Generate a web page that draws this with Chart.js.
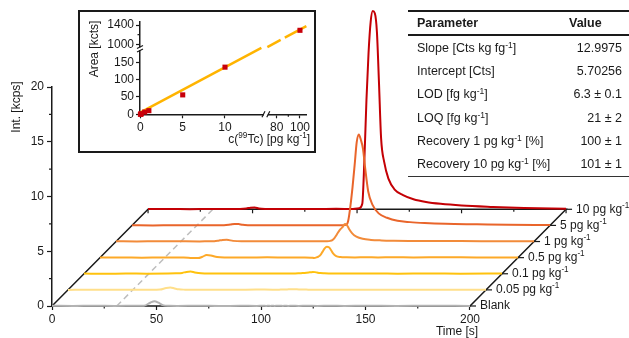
<!DOCTYPE html>
<html>
<head>
<meta charset="utf-8">
<script src="https://cdn.jsdelivr.net/npm/chart.js@4.4.1/dist/chart.umd.min.js"></script>
<style>
    body { margin: 0; background: #fff; font-family: "Liberation Sans", Arial, sans-serif; }
    #wrap { position: relative; width: 629px; height: 338px; overflow: hidden; }
    #main { position: absolute; left: 0; top: 0; }
    #insetBox { position: absolute; left: 78px; top: 10px; width: 238px; height: 143px; border: 2px solid #1a1a1a; box-sizing: border-box; background: #fff; }
    #inset { position: absolute; left: 0; top: 0; }
    #params { position: absolute; left: 408px; top: 10px; width: 221px; table-layout: fixed; border-collapse: collapse;
              font-size: 12.5px; color: #1a1a1a; border-top: 2px solid #1a1a1a; border-bottom: 1px solid #333; }
    #params th { height: 22px; padding: 0 0 0 9px; text-align: left; font-weight: bold; border-bottom: 2px solid #1a1a1a; }
    #params th.v { padding-left: 7px; }
    #params td { height: 23.3px; padding: 0 0 0 9px; white-space: nowrap; }
    #params td.n { text-align: right; padding: 0 7px 0 0; }
    #params sup { font-size: 8.5px; line-height: 0; vertical-align: 4px; }
</style>
</head>
<body>
<div id="wrap">
    <canvas id="main" width="629" height="338"></canvas>
    <div id="insetBox"><canvas id="inset" width="234" height="139"></canvas></div>
    <table id="params">
        <colgroup><col style="width:154px"><col style="width:67px"></colgroup>
        <thead><tr><th>Parameter</th><th class="v">Value</th></tr></thead>
        <tbody>
            <tr><td>Slope [Cts kg fg<sup>-1</sup>]</td><td class="n">12.9975</td></tr>
            <tr><td>Intercept [Cts]</td><td class="n">5.70256</td></tr>
            <tr><td>LOD [fg kg<sup>-1</sup>]</td><td class="n">6.3 ± 0.1</td></tr>
            <tr><td>LOQ [fg kg<sup>-1</sup>]</td><td class="n">21 ± 2</td></tr>
            <tr><td>Recovery 1 pg kg<sup>-1</sup> [%]</td><td class="n">100 ± 1</td></tr>
            <tr><td>Recovery 10 pg kg<sup>-1</sup> [%]</td><td class="n">101 ± 1</td></tr>
        </tbody>
    </table>
</div>
<script>
// Chromatogram traces (front to back)

const traceLabels = ['Blank', '0.05 pg kg^-1', '0.1 pg kg^-1', '0.5 pg kg^-1', '1 pg kg^-1', '5 pg kg^-1', '10 pg kg^-1'];
const traceColors = ['#b3b3b3', '#ffdf8a', '#ffc20e', '#fda928', '#f28b3a', '#e9652b', '#c40005'];

const timeS = [0, 10, 20, 30, 40, 44, 47, 49, 51, 53, 56, 60, 70, 80, 90, 98, 101, 102.5, 103.5, 104.5, 105.5,
    106.5, 107.5, 108.5, 109.5, 110.5, 111.5, 113, 115, 118, 122, 127, 133, 140, 150, 165, 180, 200];

const intBlank = [0.02, 0, 0.03, 0.01, 0.02, 0.03, 0.3, 0.44, 0.3, 0.08, 0.02, 0.01, 0.03, 0, 0.02, 0.01, 0.02, 0.01, 0.02, 0.01, 0.02,
    0.01, 0.02, 0.03, 0.02, 0.01, 0.02, 0.01, 0.02, 0.01, 0.02, 0.01, 0.02, 0.01, 0.02, 0.01, 0.02, 0.01];
const int005 = [0, 0.02, 0.01, 0.02, 0.01, 0.03, 0.18, 0.22, 0.13, 0.05, 0.02, 0.01, 0.02, 0.01, 0.03, 0.02, 0.02, 0.03, 0.03, 0.04, 0.05,
    0.05, 0.06, 0.06, 0.05, 0.04, 0.03, 0.03, 0.02, 0.02, 0.01, 0.02, 0.01, 0.02, 0.01, 0.02, 0.01, 0.02];
const int01 = [0.02, 0, 0.02, 0.01, 0.02, 0.04, 0.08, 0.17, 0.2, 0.12, 0.04, 0.02, 0.03, 0.02, 0.03, 0.02, 0.03, 0.04, 0.05, 0.06, 0.08,
    0.1, 0.12, 0.14, 0.16, 0.15, 0.11, 0.06, 0.04, 0.03, 0.02, 0.03, 0.02, 0.02, 0.01, 0.02, 0.01, 0.02];
const int05 = [0.01, 0.02, 0, 0.02, 0.01, -0.03, -0.04, 0.08, 0.24, 0.2, 0.06, 0.02, 0.01, 0.03, 0.01, 0.02, 0, -0.03, 0.02, 0.1, 0.25,
    0.55, 0.85, 1.0, 0.95, 0.7, 0.4, 0.15, 0.06, 0.03, 0.02, 0.03, 0.02, 0.03, 0.02, 0.03, 0.02, 0.02];
const int1 = [0.02, 0.01, 0.03, 0.02, 0.01, 0.02, 0.03, 0.08, 0.15, 0.16, 0.06, 0.02, 0.03, 0.02, 0.03, 0.02, 0.03, 0.06, 0.12, 0.3, 0.6,
    0.9, 1.15, 1.35, 1.6, 1.5, 1.15, 0.75, 0.45, 0.25, 0.15, 0.1, 0.07, 0.05, 0.04, 0.04, 0.03, 0.02];
const int5 = [0.02, 0, 0.02, 0.01, 0.02, 0.02, 0.08, 0.14, 0.12, 0.05, 0.02, 0.01, 0.02, 0.01, 0.02, 0.01, 0.02, 0.05, 0.5, 1.8, 3.5,
    5.5, 7.6, 8.3, 7.8, 7.0, 5.3, 3.1, 1.9, 1.1, 0.7, 0.42, 0.3, 0.22, 0.15, 0.1, 0.05, 0.03];
const int10 = [0.02, 0.03, 0.01, 0.03, 0.02, 0.03, 0.08, 0.15, 0.17, 0.08, 0.03, 0.02, 0.03, 0.02, 0.04, 0.03, 0.1, 0.5, 4.5, 10, 14.3,
    17.1, 18.1, 17.9, 16.2, 11.5, 6.5, 4.3, 2.8, 1.8, 1.3, 0.92, 0.67, 0.5, 0.35, 0.22, 0.12, 0.05];
const traceValues = [intBlank, int005, int01, int05, int1, int5, int10];

// waterfall offset per trace, in axis units
const DX = 7.66;
const DY = 1.472;
const T_END = 200;
const VOID_TIME = 31;
const timeLabels = [0, 50, 100, 150, 200];
const timeTicks = [0, 25, 50, 75, 100, 125, 150, 175, 200];
const intMinorTicks = [2.5, 7.5, 12.5, 17.5];

// Calibration inset
const concPgKg = [0, 0.05, 0.1, 0.5, 1, 5, 10, 100];
const areaKcts = [0, 0.8, 1.5, 6.5, 10.5, 56, 136, 1290];
const fitSlope = 12.9975;
const fitIntercept = 5.70256;
const fitSpans = [[0, 14.3], [72, 83.4], [87, 105.5]];
const insetXTicks = [0, 5, 10, 80, 100];
const insetXMinor = [90];
const insetYTicks = [0, 50, 100, 150, 1000, 1400];
const insetYMinor = [1200];

// broken axes: map real values onto one continuous scale
const xv = c => c <= 40 ? c : 16.11 + (c - 80) * 0.1377;
const yv = a => a <= 500 ? a : 201.9 + (a - 1000) * 0.1392;

const FONT = '"Liberation Sans", Arial, sans-serif';
const INK = '#1a1a1a';
Chart.defaults.font.family = FONT;
Chart.defaults.font.size = 12;
Chart.defaults.color = INK;

const drawRich = (ctx, text, x, y, align, size = 12) => {
    const parts = text.split('^');
    const fonts = parts.map((p, i) => `${i % 2 ? size * 0.68 : size}px ${FONT}`);
    const widths = parts.map((p, i) => { ctx.font = fonts[i]; return ctx.measureText(p).width; });
    const total = widths.reduce((a, b) => a + b, 0);
    let cx = align === 'right' ? x - total : align === 'center' ? x - total / 2 : x;
    ctx.textAlign = 'left';
    ctx.textBaseline = 'middle';
    parts.forEach((p, i) => {
        ctx.font = fonts[i];
        ctx.fillText(p, cx, i % 2 ? y - size * 0.33 : y);
        cx += widths[i];
    });
};

const tickLine = (ctx, x1, y1, x2, y2) => {
    ctx.beginPath();
    ctx.moveTo(x1, y1);
    ctx.lineTo(x2, y2);
    ctx.stroke();
};

const waterfallAxes = {
    id: 'waterfallAxes',
    beforeDatasetsDraw(chart) {
        const { ctx, scales: { x, y } } = chart;
        const last = traceLabels.length - 1;
        const X = (t, k) => x.getPixelForValue(t + k * DX);
        const Y = (v, k) => y.getPixelForValue(v + k * DY);
        ctx.save();

        ctx.strokeStyle = '#bdbdbd';
        ctx.lineWidth = 1.5;
        ctx.setLineDash([6, 4]);
        tickLine(ctx, X(VOID_TIME, 0), Y(0, 0), X(VOID_TIME, last), Y(0, last));
        ctx.setLineDash([]);

        ctx.strokeStyle = INK;
        ctx.beginPath();
        ctx.moveTo(X(0, 0) - 0.75, Y(0, 0));
        ctx.lineTo(X(T_END, 0), Y(0, 0));
        ctx.lineTo(X(T_END, last), Y(0, last));
        ctx.lineTo(X(0, last), Y(0, last));
        ctx.lineTo(X(0, 0), Y(0, 0));
        ctx.stroke();

        ctx.lineWidth = 1.2;
        timeTicks.forEach(t => {
            const len = t % 50 === 0 ? 4 : 2.5;
            tickLine(ctx, X(t, last), Y(0, last), X(t, last), Y(0, last) + len);
            if (t % 50) tickLine(ctx, X(t, 0), Y(0, 0), X(t, 0), Y(0, 0) + len);
        });
        intMinorTicks.forEach(v => tickLine(ctx, x.left - 3, y.getPixelForValue(v), x.left, y.getPixelForValue(v)));

        ctx.fillStyle = INK;
        traceLabels.forEach((lab, k) => {
            const px = X(T_END, k), py = Y(0, k);
            tickLine(ctx, px, py, px + 6, py);
            drawRich(ctx, lab, px + 10, py, 'left');
        });
        ctx.restore();
    },
    afterDraw(chart) {
        const { ctx } = chart;
        ctx.save();
        ctx.fillStyle = INK;
        drawRich(ctx, 'Time [s]', 457, 332, 'center');
        ctx.translate(17, 107);
        ctx.rotate(-Math.PI / 2);
        drawRich(ctx, 'Int. [kcps]', 0, 0, 'center');
        ctx.restore();
    }
};

const xMax = T_END + (traceLabels.length - 1) * DX;

new Chart(document.getElementById('main'), {
    type: 'line',
    data: {
        datasets: traceLabels.map((label, k) => ({
            label,
            data: timeS.map((t, i) => ({ x: t + k * DX, y: traceValues[k][i] + k * DY })),
            borderColor: traceColors[k],
            borderWidth: 2,
            pointRadius: 0,
            cubicInterpolationMode: 'monotone',
            clip: false,
            order: k
        }))
    },
    options: {
        responsive: false,
        animation: false,
        layout: { padding: { left: 0, top: 87, right: 629 - (52 + xMax * 2.09), bottom: 0 } },
        plugins: { legend: { display: false }, tooltip: { enabled: false } },
        scales: {
            x: {
                type: 'linear', min: 0, max: xMax,
                afterFit: s => { s.height = 32; },
                afterBuildTicks: s => { s.ticks = timeLabels.map(t => ({ value: t })); },
                border: { display: false },
                grid: { drawOnChartArea: false, tickLength: 4, tickColor: INK, tickWidth: 1.2 },
                ticks: { padding: 2, maxRotation: 0, autoSkip: false }
            },
            y: {
                min: 0, max: 20,
                afterFit: s => { s.width = 52; },
                border: { color: INK, width: 1.5 },
                grid: { drawOnChartArea: false, tickLength: 5, tickColor: INK, tickWidth: 1.2 },
                ticks: { stepSize: 5, padding: 3 }
            }
        }
    },
    plugins: [waterfallAxes]
});

// Inset calibration chart

const insetBreaks = {
    id: 'insetBreaks',
    afterDraw(chart) {
        const { ctx, scales: { x, y } } = chart;
        const ax = x.getPixelForValue(-0.05), ay = y.getPixelForValue(0);
        ctx.save();
        ctx.strokeStyle = INK;
        ctx.lineWidth = 1.2;
        insetXMinor.forEach(c => tickLine(ctx, x.getPixelForValue(xv(c)), ay, x.getPixelForValue(xv(c)), ay + 2.5));
        insetYMinor.forEach(a => tickLine(ctx, ax - 2.5, y.getPixelForValue(yv(a)), ax, y.getPixelForValue(yv(a))));

        const bx1 = x.getPixelForValue(14.55), bx2 = x.getPixelForValue(15.12);
        ctx.fillStyle = '#fff';
        ctx.fillRect(bx1 + 0.5, ay - 2, bx2 - bx1 - 1, 4);
        [bx1, bx2].forEach(bx => tickLine(ctx, bx - 1.5, ay + 3, bx + 1.5, ay - 3));

        const by1 = y.getPixelForValue(194), by2 = y.getPixelForValue(184);
        ctx.fillRect(ax - 2, by1 + 0.5, 4, by2 - by1 - 1);
        [by1, by2].forEach(by => tickLine(ctx, ax - 3, by + 1.5, ax + 3, by - 1.5));

        ctx.fillStyle = INK;
        drawRich(ctx, 'c(^99^Tc) [pg kg^-1^]', 230, 128, 'right');
        ctx.translate(15, 37);
        ctx.rotate(-Math.PI / 2);
        drawRich(ctx, 'Area [kcts]', 0, 0, 'center');
        ctx.restore();
    }
};

new Chart(document.getElementById('inset'), {
    type: 'line',
    data: {
        datasets: [
            {
                data: concPgKg.map((c, i) => ({ x: xv(c), y: yv(areaKcts[i]) })),
                showLine: false,
                pointStyle: 'rect',
                pointRadius: 3.6,
                backgroundColor: '#c8000a',
                borderColor: '#c8000a',
                borderWidth: 0,
                clip: false,
                order: 0
            },
            ...fitSpans.map(span => ({
                data: span.map(c => ({ x: xv(c), y: yv(fitSlope * c + fitIntercept) })),
                borderColor: '#ffb400',
                borderWidth: 2.5,
                pointRadius: 0,
                clip: false,
                order: 1
            }))
        ]
    },
    options: {
        responsive: false,
        animation: false,
        layout: { padding: { left: 0, top: 9.7, right: 7.3, bottom: 0 } },
        plugins: { legend: { display: false }, tooltip: { enabled: false } },
        scales: {
            x: {
                type: 'linear', min: -0.05, max: 19.66,
                afterFit: s => { s.height = 36.7; },
                afterBuildTicks: s => { s.ticks = insetXTicks.map(c => ({ value: xv(c) })); },
                border: { color: INK, width: 1.5 },
                grid: { drawOnChartArea: false, tickLength: 4, tickColor: INK, tickWidth: 1.2 },
                ticks: { padding: 2, autoSkip: false, maxRotation: 0, callback: (v, i) => insetXTicks[i] }
            },
            y: {
                min: 0, max: 267.1,
                afterFit: s => { s.width = 60; },
                afterBuildTicks: s => { s.ticks = insetYTicks.map(a => ({ value: yv(a) })); },
                border: { color: INK, width: 1.5 },
                grid: { drawOnChartArea: false, tickLength: 4, tickColor: INK, tickWidth: 1.2 },
                ticks: { padding: 2, autoSkip: false, callback: (v, i) => insetYTicks[i] }
            }
        }
    },
    plugins: [insetBreaks]
});
</script>
</body>
</html>
